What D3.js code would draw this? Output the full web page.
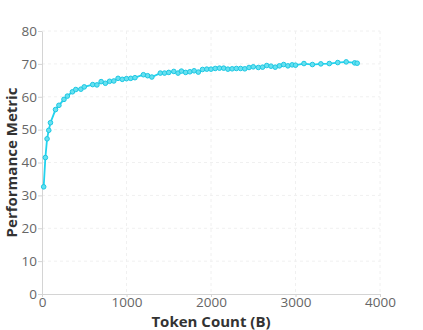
<!DOCTYPE html>
<html>
<head>
<meta charset="utf-8">
<script src="https://cdn.jsdelivr.net/npm/d3@7"></script>
<style>
  body { margin: 0; background: #fff; }
  svg { font-family: "Open Sans", "Noto Sans", sans-serif; }
</style>
</head>
<body>
<svg id="graph"></svg>
<script>
// data
const tokens = [20, 40, 60, 80, 100, 160, 200, 260, 300, 360, 400, 460, 500, 600, 650, 700, 750, 800, 850, 900,
  950, 1000, 1050, 1100, 1200, 1250, 1300, 1400, 1450, 1500, 1560, 1610, 1650, 1700, 1750, 1800, 1850, 1900, 1950, 2000,
  2050, 2100, 2150, 2200, 2250, 2300, 2350, 2400, 2450, 2500, 2560, 2610, 2660, 2710, 2760, 2810, 2860, 2910, 2960, 3000,
  3100, 3200, 3300, 3400, 3500, 3600, 3700, 3730]
const metric = [32.6, 41.5, 47.2, 49.8, 52.1, 56.1, 57.4, 59.2, 60.2, 61.5, 62.2, 62.3, 63.0, 63.7, 63.6, 64.6, 64.1, 64.7, 64.8, 65.6,
  65.3, 65.5, 65.6, 65.8, 66.7, 66.4, 66.0, 67.2, 67.2, 67.4, 67.7, 67.2, 67.8, 67.4, 67.6, 67.9, 67.5, 68.3, 68.4, 68.4,
  68.6, 68.7, 68.7, 68.4, 68.5, 68.6, 68.6, 68.5, 68.9, 69.1, 68.9, 69.0, 69.5, 69.3, 69.0, 69.4, 69.8, 69.4, 69.7, 69.6,
  70.1, 69.8, 70.0, 70.1, 70.4, 70.6, 70.3, 70.2]
const xTicks = [0, 1000, 2000, 3000, 4000]
const yTicks = [0, 10, 20, 30, 40, 50, 60, 70, 80]

const data = tokens.map((t, i) => ({ x: t, y: metric[i] }))

// set the dimensions and margins of the graph
const margin = { top: 31, right: 43, bottom: 36, left: 42 }
const width = 423 - margin.left - margin.right
const height = 330 - margin.top - margin.bottom

const svg = d3.select("#graph")
  .attr("width", 423)
  .attr("height", 330)
  .append("g")
  .attr("transform", `translate(${margin.left},${margin.top})`)

const x = d3.scaleLinear().domain([0, 4000]).range([0, width])
const y = d3.scaleLinear().domain([0, 80]).range([height, 0])

// grid lines
svg.append("g").selectAll("line.hgrid")
  .data(yTicks.filter(d => d > 0))
  .join("line")
  .attr("x1", 0).attr("x2", width)
  .attr("y1", d => y(d)).attr("y2", d => y(d))
  .attr("stroke", "#f0f0f0").attr("stroke-dasharray", "3,3")
svg.append("g").selectAll("line.vgrid")
  .data(xTicks.filter(d => d > 0))
  .join("line")
  .attr("x1", d => x(d)).attr("x2", d => x(d))
  .attr("y1", 0).attr("y2", height)
  .attr("stroke", "#f0f0f0").attr("stroke-dasharray", "3,3")

// axes
const xAxis = svg.append("g")
  .attr("transform", `translate(0,${height})`)
  .call(d3.axisBottom(x).tickValues(xTicks).tickFormat(d3.format("d")).tickSize(3).tickSizeOuter(0))
const yAxis = svg.append("g")
  .call(d3.axisLeft(y).tickValues(yTicks).tickSize(4).tickPadding(1).tickSizeOuter(0))

for (const ax of [xAxis, yAxis]) {
  ax.select(".domain").attr("stroke", "#d4d4d4")
  ax.selectAll(".tick line").attr("stroke", "#d4d4d4")
  ax.selectAll(".tick text")
    .attr("fill", "#666")
    .style("font-size", "13.5px")
    .style("font-family", "'Open Sans', 'Noto Sans', sans-serif")
}
xAxis.selectAll(".tick text").attr("dy", "0.55em")

// line + markers
const line = d3.line().x(d => x(d.x)).y(d => y(d.y))
svg.append("path")
  .datum(data)
  .attr("fill", "none")
  .attr("stroke", "#22d3ee")
  .attr("stroke-width", 1.8)
  .attr("d", line)

svg.selectAll(".pt")
  .data(data)
  .join("circle")
  .attr("class", "pt")
  .attr("cx", d => x(d.x))
  .attr("cy", d => y(d.y))
  .attr("r", 2.3)
  .attr("fill", "#67e0f0")
  .attr("stroke", "#1cc8e3")
  .attr("stroke-width", 1)

// axis titles
svg.append("text")
  .attr("x", width / 2)
  .attr("y", height + 33)
  .attr("text-anchor", "middle")
  .attr("fill", "#333")
  .style("font-size", "15px")
  .style("font-weight", "bold")
  .text("Token Count (B)")

svg.append("text")
  .attr("transform", `translate(${-25},${height / 2}) rotate(-90)`)
  .attr("text-anchor", "middle")
  .attr("fill", "#333")
  .style("font-size", "15px")
  .style("font-weight", "bold")
  .text("Performance Metric")
</script>
</body>
</html>
